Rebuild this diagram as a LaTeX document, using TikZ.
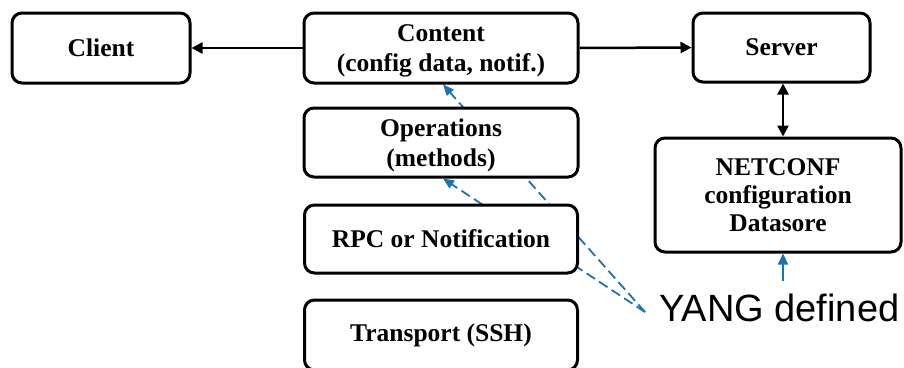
\documentclass[tikz,border=0pt]{standalone}
\usepackage{fontspec}
\setmainfont{Liberation Serif}
\newfontfamily\yangfont{Liberation Sans}
\usetikzlibrary{arrows.meta,backgrounds,calc}
\definecolor{yblue}{RGB}{26,114,184}
\newcommand{\topstrut}{\rule{0pt}{23pt}}
\begin{document}
\begin{tikzpicture}[x=1pt,y=-1pt,
  box/.style={draw, line width=3pt, rounded corners=10pt, fill=white, align=center,
    font=\fontsize{25.5}{30}\selectfont\bfseries, inner sep=0pt},
  blk/.style={line width=2.5pt, draw=black, >={Triangle[length=11pt,width=11pt]}},
  bluedash/.style={draw=yblue, line width=1.8pt, dash pattern=on 10pt off 5pt,
    -{Triangle[length=11pt,width=9pt]}},
  bluesolid/.style={draw=yblue, line width=2pt, -{Triangle[length=11pt,width=10pt]}}
]
\useasboundingbox (0,0) rectangle (904,367);

\node[box, minimum width=178pt, minimum height=70pt] (client) at (101,48) {Client};
\node[box, minimum width=274pt, minimum height=70pt] (content) at (441,48) {\topstrut Content\\(config data, notif.)};
\node[box, minimum width=177pt, minimum height=69pt] (server) at (781.5,47.5) {Server};
\node[box, minimum width=274pt, minimum height=69pt] (ops) at (441,142.5) {\topstrut Operations\\(methods)};
\node[box, minimum width=273pt, minimum height=68pt] (rpc) at (441,239) {RPC or Notification};
\node[box, minimum width=273pt, minimum height=70pt] (transport) at (441,335) {Transport (SSH)};
\node[box, minimum width=246pt, minimum height=114pt, font=\fontsize{25.5}{28}\selectfont\bfseries] (netconf) at (778,195) {NETCONF\\configuration\\Datasore};

\node[anchor=base west, inner sep=0pt, font=\yangfont\fontsize{38}{42}\selectfont] (yang) at (659,321) {YANG defined};
\coordinate (yangL) at (645,312);
\coordinate (yangUp) at (783,281);

\begin{pgfonlayer}{background}
  \fill[white] (0,0) rectangle (904,367);
  \draw[bluedash] (yangL) -- ([xshift=2pt]content.south);
  \draw[bluedash] (yangL) -- ([xshift=2pt]ops.south);
\end{pgfonlayer}

\draw[blk, ->] (content.west) -- (client.east);
\draw[blk, ->] (content.east) -- (server.west);
\draw[blk, <->] ([xshift=1.5pt]server.south) -- ([xshift=1.5pt]server.south |- netconf.north);
\draw[bluesolid] (yangUp) -- (yangUp |- netconf.south);
\end{tikzpicture}
\end{document}
